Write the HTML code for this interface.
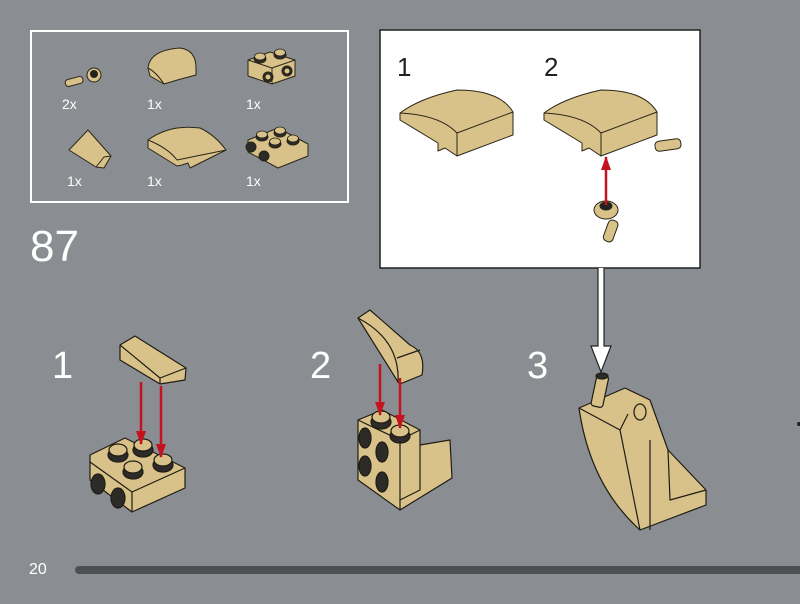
<!DOCTYPE html>
<html><head><style>
html,body{margin:0;padding:0;background:#8a8e92;}
svg{display:block;}
text{font-family:"Liberation Sans",sans-serif;}
</style></head><body>
<svg width="800" height="604" viewBox="0 0 800 604" xmlns="http://www.w3.org/2000/svg">
<defs>
<marker id="ra" markerWidth="14" markerHeight="10" refX="13" refY="5" orient="auto" markerUnits="userSpaceOnUse">
<path d="M0,0 L14,5 L0,10 Z" fill="#c4121f"/></marker>
<g id="stud"><ellipse cx="0" cy="2" rx="10" ry="7" fill="#2c2b28"/><ellipse cx="0" cy="-3" rx="9" ry="6" fill="#d8c28a" stroke="#1f1c14"/></g>
<g id="sstud"><ellipse cx="0" cy="1" rx="6" ry="4" fill="#2c2b28"/><ellipse cx="0" cy="-1.5" rx="5.5" ry="3.5" fill="#d8c28a" stroke="#1f1c14" stroke-width=".8"/></g>
</defs>
<rect width="800" height="604" fill="#8a8e92"/>
<rect x="31" y="31" width="317" height="171" fill="none" stroke="#fff" stroke-width="2"/>
<g stroke="#2a2618" stroke-width="1" stroke-linejoin="round" fill="#d8c28a">
<rect x="65" y="78" width="18" height="7" rx="3" transform="rotate(-15 74 81)"/>
<circle cx="94" cy="75" r="7"/>
<circle cx="94" cy="74" r="3.5" fill="#222"/>
<path d="M148,68 Q150,50 180,48 Q196,50 196,68 L196,75 Q180,79 164,84 L150,76 Z"/>
<path d="M148,68 Q156,72 164,84" fill="none"/>
<polygon points="248,60 270,52 295,60 295,76 272,84 248,76"/>
<polyline points="248,60 272,68 295,60" fill="none"/>
<line x1="272" y1="68" x2="272" y2="84"/>
<use href="#sstud" x="260" y="58"/><use href="#sstud" x="280" y="54"/>
<circle cx="268" cy="77" r="5" fill="#2c2b28"/><circle cx="268" cy="77" r="3"/>
<circle cx="287" cy="71" r="5" fill="#2c2b28"/><circle cx="287" cy="71" r="3"/>
<path d="M69,150 L88,130 L111,156 L104,168 L96,167 Z"/>
<path d="M96,167 L104,157 L111,156" fill="none"/>
<path d="M148,140 Q170,124 200,128 Q215,135 226,150 L190,168 L188,163 L182,165 L177,166 L148,148 Z"/>
<path d="M148,140 Q168,148 177,160 L226,150" fill="none"/>
<polygon points="248,140 278,128 308,144 308,156 278,168 248,152"/>
<use href="#sstud" x="262" y="136"/><use href="#sstud" x="280" y="132"/>
<use href="#sstud" x="275" y="143"/><use href="#sstud" x="293" y="140"/>
<circle cx="251" cy="147" r="5" fill="#2c2b28"/><circle cx="264" cy="156" r="5" fill="#2c2b28"/>
</g>
<g fill="#fff" font-size="14">
<text x="62" y="109">2x</text><text x="147" y="109">1x</text><text x="246" y="109">1x</text>
<text x="67" y="186">1x</text><text x="147" y="186">1x</text><text x="246" y="186">1x</text>
</g>
<text x="30" y="261" fill="#fff" font-size="44">87</text>

<rect x="380" y="30" width="320" height="238" fill="#fff" stroke="#222" stroke-width="1.5"/>
<text x="397" y="76" font-size="26" fill="#222">1</text>
<text x="544" y="76" font-size="26" fill="#222">2</text>
<g stroke="#2a2618" stroke-width="1" stroke-linejoin="round" fill="#d8c28a">
<path d="M400,113 Q420,98 457,90 Q500,90 513,112 L513,135 L457,156 L445,148 L438,151 L438,143 L400,120 Z"/>
<path d="M400,113 Q440,115 457,133 L513,112 M457,133 L457,156" fill="none"/>
<rect x="655" y="140" width="26" height="10" rx="4" transform="rotate(-8 668 145)"/>
<path d="M544,113 Q564,98 601,90 Q644,90 657,112 L657,135 L601,156 L589,148 L582,151 L582,143 L544,120 Z"/>
<path d="M544,113 Q584,115 601,133 L657,112 M601,133 L601,156" fill="none"/>
<rect x="606" y="220" width="10" height="22" rx="4" transform="rotate(20 611 230)"/>
<ellipse cx="606" cy="210" rx="12" ry="9"/>
<ellipse cx="606" cy="206" rx="6" ry="4" fill="#222"/>
</g>
<line x1="606" y1="205" x2="606" y2="157" stroke="#c4121f" stroke-width="2.5" marker-end="url(#ra)"/>

<path d="M598,268 L598,346 L591,346 L601,372 L611,346 L604,346 L604,268" fill="#fff" stroke="#222" stroke-width="1.2"/>

<g fill="#fff" font-size="38">
<text x="52" y="378">1</text><text x="310" y="378">2</text><text x="527" y="378">3</text>
</g>

<g stroke="#1f1c14" stroke-width="1.2" stroke-linejoin="round" fill="#d8c28a">
<polygon points="120,345 135,336 186,368 185,380 160,384 120,360"/>
<path d="M120,345 L160,378 L160,384 M160,378 L186,368" fill="none"/>
<polygon points="90,455 125,438 185,468 185,488 132,512 90,480"/>
<path d="M90,462 L132,492 L185,468 M132,492 L132,512" fill="none"/>
<use href="#stud" x="118" y="453"/><use href="#stud" x="143" y="448"/>
<use href="#stud" x="133" y="470"/><use href="#stud" x="163" y="463"/>
<ellipse cx="98" cy="484" rx="7" ry="10" fill="#2c2b28"/>
<ellipse cx="118" cy="498" rx="7" ry="10" fill="#2c2b28"/>
<path d="M358,318 L370,310 L410,345 Q426,352 422,375 L400,384 L398,382 Z"/>
<path d="M358,318 Q400,340 398,382 M397,358 L420,350" fill="none"/>
<polygon points="358,420 382,410 420,430 420,445 450,440 452,478 400,510 358,480"/>
<path d="M358,420 L400,440 L420,430 M400,440 L400,510 M420,445 L420,490 L400,500" fill="none"/>
<use href="#stud" x="381" y="420"/><use href="#stud" x="400" y="434"/>
<ellipse cx="365" cy="438" rx="6" ry="10" fill="#2c2b28"/>
<ellipse cx="382" cy="452" rx="6" ry="10" fill="#2c2b28"/>
<ellipse cx="365" cy="466" rx="6" ry="10" fill="#2c2b28"/>
<ellipse cx="382" cy="482" rx="6" ry="10" fill="#2c2b28"/>
<path d="M579,408 L625,388 L650,400 L668,450 L706,490 L706,505 L640,530 Q590,485 579,408 Z"/>
<path d="M579,408 L620,430 L640,530 M620,430 L628,414 M650,440 L650,530 M668,450 L670,500 L706,490" fill="none"/>
<rect x="594" y="375" width="12" height="32" rx="3" transform="rotate(12 600 390)"/>
<ellipse cx="602" cy="376" rx="6" ry="3" fill="#2c2b28"/>
<ellipse cx="640" cy="412" rx="6" ry="8"/>
</g>
<g stroke="#c4121f" stroke-width="2.5">
<line x1="141" y1="382" x2="141" y2="444" marker-end="url(#ra)"/>
<line x1="161" y1="386" x2="161" y2="457" marker-end="url(#ra)"/>
<line x1="380" y1="364" x2="380" y2="415" marker-end="url(#ra)"/>
<line x1="400" y1="378" x2="400" y2="428" marker-end="url(#ra)"/>
</g>
<circle cx="799" cy="424" r="2" fill="#222"/>

<text x="29" y="574" fill="#fff" font-size="16">20</text>
<rect x="75" y="566" width="740" height="8" rx="4" fill="#4d4f53"/>
</svg>
</body></html>
